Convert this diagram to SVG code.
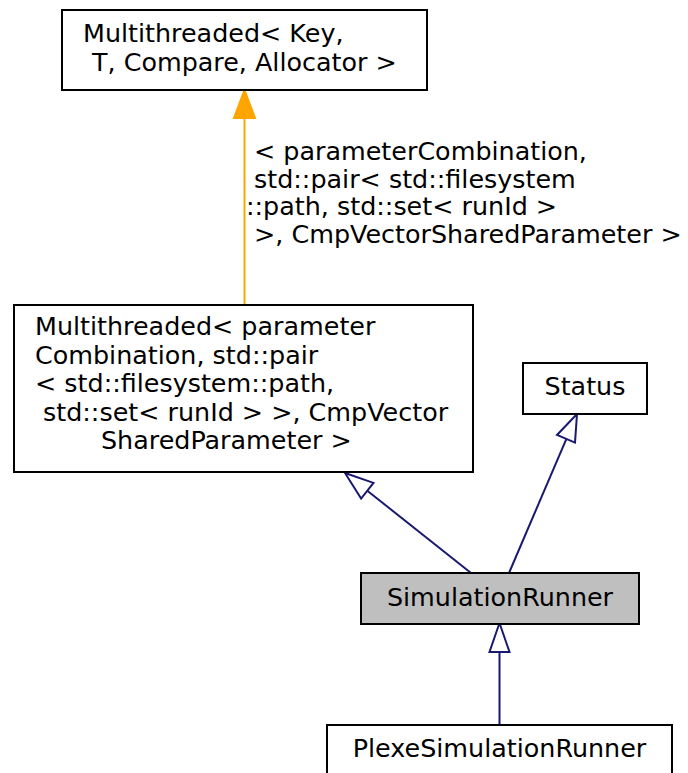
<svg xmlns="http://www.w3.org/2000/svg" width="688" height="773" viewBox="0 0 688 773">
<style>
text{font-family:"DejaVu Sans","Liberation Sans",sans-serif;font-size:25.4px;fill:#000}
.box{fill:#fff;stroke:#000;stroke-width:2}
.cur{fill:#bfbfbf;stroke:#000;stroke-width:2}
.inh{stroke:#191970;stroke-width:2;fill:none}
.hd{fill:#fff;stroke:#191970;stroke-width:2}
.tpl{stroke:#ffa500;stroke-width:2;fill:none}
</style>
<rect width="688" height="773" fill="#fff"/>
<g id="connectors">
<line class="tpl" x1="244.5" y1="305" x2="244.5" y2="117"/>
<polygon points="244.5,90 234,118 255,118" fill="#ffa500" stroke="#ffa500" stroke-width="2"/>
<g id="edge-label">
<text x="254" y="160">&lt; parameterCombination,</text>
<text x="254" y="188">std::pair&lt; std::filesystem</text>
<text x="246" y="215">::path, std::set&lt; runId &gt;</text>
<text x="254" y="243">&gt;, CmpVectorSharedParameter &gt;</text>
</g>
<line class="inh" x1="471" y1="573" x2="367.3" y2="490.7"/>
<polygon class="hd" points="345,473 373.5,482.9 361.1,498.5"/>
<line class="inh" x1="509" y1="573" x2="566.4" y2="438.8"/>
<polygon class="hd" points="577,414 575,442.6 557,435"/>
<line class="inh" x1="499.5" y1="725" x2="499.5" y2="652"/>
<polygon class="hd" points="499.5,623 489.5,652 509.5,652"/>
</g>
<g id="node-multithreaded-key">
<rect class="box" x="62" y="10" width="365" height="80"/>
<text x="83" y="42">Multithreaded&lt; Key,</text>
<text x="92" y="71">T, Compare, Allocator &gt;</text>
</g>
<g id="node-multithreaded-param">
<rect class="box" x="14" y="305" width="459" height="167"/>
<text x="35" y="335">Multithreaded&lt; parameter</text>
<text x="35" y="364">Combination, std::pair</text>
<text x="35" y="392">&lt; std::filesystem::path,</text>
<text x="43" y="421">std::set&lt; runId &gt; &gt;, CmpVector</text>
<text x="101" y="449">SharedParameter &gt;</text>
</g>
<g id="node-status">
<rect class="box" x="523" y="363" width="124" height="51"/>
<text x="585" y="395" text-anchor="middle">Status</text>
</g>
<g id="node-simulationrunner">
<rect class="cur" x="361" y="573" width="278" height="51"/>
<text x="500" y="606" text-anchor="middle">SimulationRunner</text>
</g>
<g id="node-plexesimulationrunner">
<rect class="box" x="327" y="725" width="345" height="60"/>
<text x="499.5" y="757" text-anchor="middle">PlexeSimulationRunner</text>
</g>
</svg>
